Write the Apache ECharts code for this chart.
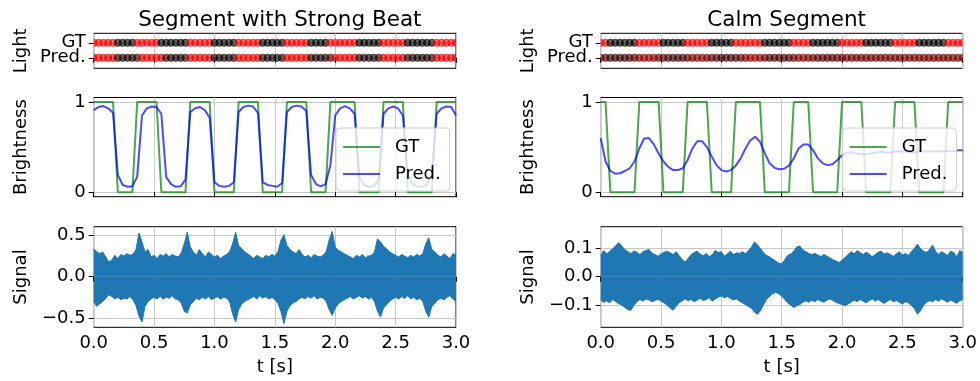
<!DOCTYPE html>
<html><head><meta charset="utf-8">
<script src="https://cdn.jsdelivr.net/npm/echarts@6/dist/echarts.min.js"></script>
<style>html,body{margin:0;padding:0;background:#fff}#c{width:980px;height:381px}</style>
</head><body><div id="c"></div><script>
// ---------- data ----------
const panelTitles = ['Segment with Strong Beat', 'Calm Segment'];
const lightRows = ['Pred.', 'GT'];   // y = 0, 1 on the light strip
const frameStep = 0.04;   // s per light frame
const sigStep = 0.025;    // s per envelope sample

const leftGT = [1,1,1,1,1, 0,0,0,0, 1,1,1,1,1, 0,0,0,0,0,0, 1,1,1,1,1, 0,0,0,0,0, 1,1,1,1,1, 0,0,0,0,0, 1,1,1,1,1, 0,0,0,0, 1,1,1,1,1,1, 0,0,0,0,0, 1,1,1,1,1, 0,0,0,0,0,0, 1,1,1,1,1];
const leftPred = [0.91,0.945,0.955,0.93,0.88, 0.19,0.08,0.06,0.065, 0.17,0.85,0.93,0.95,0.945, 0.87,0.17,0.09,0.06,0.065,0.14, 0.89,0.93,0.945,0.91,0.83, 0.11,0.07,0.06,0.07,0.11, 0.89,0.945,0.96,0.95,0.88, 0.11,0.08,0.07,0.06,0.10, 0.89,0.945,0.96,0.95,0.90, 0.19,0.09,0.065,0.09, 0.30,0.85,0.93,0.955,0.93,0.87, 0.17,0.08,0.06,0.065,0.14, 0.87,0.93,0.95,0.93,0.85, 0.19,0.09,0.06,0.06,0.08,0.19, 0.87,0.93,0.95,0.945,0.85];
const rightGT = [1,1, 0,0,0,0,0,0, 1,1,1,1,1, 0,0,0,0,0, 1,1,1,1,1, 0,0,0,0,0, 1,1,1,1,1,1, 0,0,0,0,0,0, 1,1,1,1, 0,0,0,0,0,0, 1,1,1,1,1, 0,0,0,0,0,0, 1,1,1,1,1, 0,0,0,0,0,0, 1,1,1,1];
const rightPred = [0.60,0.34,0.235,0.205,0.21,0.235,0.265,0.34,0.485,0.595, 0.60,0.53,0.43,0.34,0.28,0.245,0.245,0.265,0.355,0.485, 0.565,0.565,0.50,0.395,0.30,0.245,0.23,0.245,0.295,0.375, 0.485,0.575,0.615,0.56,0.43,0.32,0.27,0.255,0.26,0.295, 0.375,0.485,0.53,0.53,0.465,0.375,0.32,0.30,0.31,0.355, 0.41,0.44,0.44,0.43,0.42,0.42,0.43,0.44,0.45,0.44, 0.44,0.45,0.455,0.45,0.44,0.44,0.45,0.45,0.455,0.455, 0.455,0.455,0.455,0.455,0.465,0.465];

const leftSigUpper = [
0.34,0.30,0.28,0.30,0.24,0.18,0.20,0.26,0.22,0.27,
0.25,0.28,0.26,0.27,0.33,0.53,0.42,0.30,0.33,0.24,
0.26,0.22,0.27,0.25,0.28,0.24,0.27,0.25,0.24,0.29,
0.40,0.54,0.36,0.30,0.26,0.33,0.28,0.24,0.30,0.27,
0.24,0.26,0.22,0.25,0.27,0.30,0.40,0.54,0.38,0.34,
0.30,0.28,0.25,0.22,0.26,0.24,0.22,0.26,0.24,0.27,
0.25,0.30,0.44,0.51,0.38,0.33,0.30,0.28,0.33,0.27,
0.24,0.26,0.23,0.27,0.25,0.24,0.26,0.30,0.45,0.55,
0.36,0.32,0.30,0.28,0.26,0.24,0.22,0.26,0.24,0.27,
0.23,0.25,0.26,0.30,0.46,0.42,0.37,0.34,0.30,0.28,
0.26,0.24,0.27,0.25,0.23,0.26,0.24,0.27,0.25,0.28,
0.40,0.47,0.33,0.30,0.26,0.24,0.28,0.25,0.22,0.28,
0.26];
const leftSigLower = [
-0.30,-0.36,-0.33,-0.30,-0.26,-0.22,-0.24,-0.27,-0.25,-0.28,
-0.26,-0.27,-0.24,-0.28,-0.35,-0.48,-0.55,-0.36,-0.30,-0.27,
-0.25,-0.27,-0.24,-0.27,-0.25,-0.26,-0.23,-0.27,-0.28,-0.32,
-0.42,-0.44,-0.34,-0.30,-0.26,-0.28,-0.25,-0.27,-0.24,-0.28,
-0.26,-0.24,-0.27,-0.25,-0.26,-0.30,-0.45,-0.55,-0.40,-0.33,
-0.30,-0.28,-0.26,-0.24,-0.27,-0.23,-0.26,-0.24,-0.27,-0.25,
-0.28,-0.32,-0.42,-0.57,-0.42,-0.35,-0.32,-0.30,-0.27,-0.25,
-0.27,-0.24,-0.26,-0.23,-0.27,-0.25,-0.26,-0.30,-0.40,-0.47,
-0.38,-0.33,-0.30,-0.28,-0.26,-0.24,-0.27,-0.25,-0.23,-0.26,
-0.24,-0.27,-0.25,-0.30,-0.42,-0.49,-0.38,-0.34,-0.30,-0.27,
-0.25,-0.27,-0.24,-0.26,-0.23,-0.27,-0.25,-0.28,-0.26,-0.30,
-0.42,-0.49,-0.36,-0.32,-0.28,-0.26,-0.28,-0.25,-0.23,-0.27,
-0.30];
const rightSigUpper = [
0.075,0.092,0.080,0.090,0.098,0.110,0.120,0.108,0.095,0.088,
0.082,0.090,0.086,0.078,0.088,0.092,0.096,0.082,0.078,0.072,
0.080,0.086,0.090,0.084,0.078,0.088,0.074,0.060,0.052,0.065,
0.078,0.085,0.090,0.080,0.074,0.082,0.070,0.078,0.092,0.085,
0.088,0.072,0.080,0.090,0.078,0.084,0.082,0.088,0.080,0.092,
0.105,0.122,0.112,0.098,0.085,0.075,0.070,0.062,0.055,0.048,
0.045,0.060,0.075,0.080,0.090,0.105,0.108,0.095,0.088,0.082,
0.078,0.082,0.076,0.070,0.078,0.072,0.066,0.060,0.055,0.050,
0.058,0.068,0.078,0.088,0.080,0.092,0.085,0.078,0.086,0.080,
0.070,0.078,0.086,0.090,0.080,0.084,0.078,0.072,0.080,0.088,
0.076,0.082,0.075,0.088,0.100,0.115,0.098,0.090,0.085,0.095,
0.112,0.090,0.078,0.088,0.082,0.075,0.090,0.085,0.070,0.092,
0.085];
const rightSigLower = [
-0.082,-0.090,-0.085,-0.092,-0.080,-0.088,-0.095,-0.100,-0.108,-0.116,
-0.118,-0.100,-0.088,-0.080,-0.086,-0.078,-0.082,-0.088,-0.084,-0.080,
-0.086,-0.092,-0.100,-0.110,-0.118,-0.104,-0.092,-0.085,-0.078,-0.085,
-0.080,-0.088,-0.082,-0.076,-0.084,-0.080,-0.074,-0.086,-0.078,-0.072,
-0.068,-0.074,-0.070,-0.076,-0.082,-0.078,-0.086,-0.092,-0.098,-0.105,
-0.112,-0.125,-0.132,-0.118,-0.098,-0.080,-0.068,-0.060,-0.055,-0.060,
-0.068,-0.080,-0.092,-0.100,-0.108,-0.102,-0.098,-0.090,-0.085,-0.090,
-0.082,-0.088,-0.080,-0.086,-0.090,-0.082,-0.078,-0.084,-0.090,-0.094,
-0.098,-0.102,-0.096,-0.090,-0.082,-0.088,-0.080,-0.086,-0.092,-0.084,
-0.078,-0.086,-0.080,-0.088,-0.094,-0.086,-0.080,-0.088,-0.084,-0.090,
-0.096,-0.088,-0.092,-0.100,-0.112,-0.132,-0.120,-0.100,-0.090,-0.084,
-0.088,-0.080,-0.086,-0.078,-0.084,-0.090,-0.082,-0.088,-0.094,-0.085,
-0.080];

const sigTicks = [[-0.5, 0, 0.5], [-0.1, 0, 0.1]];
const sigRange = [[-0.614, 0.607], [-0.178, 0.176]];

// ---------- build ----------
const FONT = 'DejaVu Sans';
const FS = 18;
const cols = [{left: 93.7, width: 362.3}, {left: 600.7, width: 362}];
const rows = [{top: 33.3, height: 35}, {top: 97.5, height: 99.2}, {top: 226.7, height: 100.6}];
const GREEN = 'rgba(0,128,0,0.7)', BLUE = 'rgba(0,0,255,0.7)', SIG = '#1f77b4';
const GRIDC = '#c8c8c8';

const panels = [
  {gt: leftGT, pred: leftPred, up: leftSigUpper, lo: leftSigLower},
  {gt: rightGT, pred: rightPred, up: rightSigUpper, lo: rightSigLower}
];

const grid = [], xAxis = [], yAxis = [], series = [], title = [], legend = [];
const fmtSig = v => (v < 0 ? '\u2212' : '') + Math.abs(v).toFixed(1);
const yIdx = []; // [side][row] -> yAxis index used by series

function makeY(gi, cfg, vals, withName) {
  return {
    type: 'value', gridIndex: gi, min: cfg.min, max: cfg.max, position: 'left', offset: 0,
    axisLine: {show: false},
    axisTick: {show: true, length: 5, lineStyle: {color: '#000', width: 1}, customValues: vals},
    axisLabel: {show: true, customValues: vals, formatter: cfg.fmt, fontSize: FS,
      color: '#000', fontFamily: FONT, margin: 8, hideOverlap: false},
    splitLine: {show: true, lineStyle: {color: GRIDC, width: 1}},
    name: withName ? cfg.name : '', nameLocation: 'middle', nameGap: 63, nameRotate: 90,
    nameTextStyle: {fontSize: FS, color: '#000', fontFamily: FONT}
  };
}

cols.forEach((c, s) => {
  title.push({
    text: panelTitles[s], left: c.left + c.width / 2, top: 4, textAlign: 'center',
    textStyle: {fontSize: 21.5, fontWeight: 'normal', color: '#000', fontFamily: FONT}
  });
  yIdx.push([]);
  rows.forEach((r, ri) => {
    const gi = s * 3 + ri;
    grid.push({left: c.left, top: r.top, width: c.width, height: r.height, show: true,
      borderColor: '#000', borderWidth: 1, backgroundColor: 'transparent', containLabel: false, outerBoundsMode: 'none'});
    xAxis.push({
      type: 'value', gridIndex: gi, min: 0, max: 3, interval: 0.5,
      axisLine: {show: false},
      axisTick: {show: true, length: 5, lineStyle: {color: '#000', width: 1}},
      axisLabel: {show: ri === 2, formatter: v => v.toFixed(1), fontSize: FS, color: '#000', fontFamily: FONT, margin: 7, hideOverlap: false},
      splitLine: {show: true, lineStyle: {color: GRIDC, width: 1}},
      name: ri === 2 ? 't [s]' : '', nameLocation: 'middle', nameGap: 31,
      nameTextStyle: {fontSize: FS, color: '#000', fontFamily: FONT}
    });
    let cfg;
    if (ri === 0) cfg = {min: -0.70, max: 1.63, fmt: v => lightRows[v], name: 'Light'};
    else if (ri === 1) cfg = {min: -0.05, max: 1.05, fmt: v => String(v), name: 'Brightness'};
    else cfg = {min: sigRange[s][0], max: sigRange[s][1], fmt: fmtSig, name: 'Signal'};
    yIdx[s].push(yAxis.length);
    if (ri === 0) {
      // one label per axis so both row labels are kept
      yAxis.push(makeY(gi, cfg, [1], true));
      yAxis.push(makeY(gi, cfg, [0], false));
    } else if (ri === 1) {
      yAxis.push(makeY(gi, cfg, [0, 1], true));
    } else {
      yAxis.push(makeY(gi, cfg, sigTicks[s], true));
    }
  });

  const p = panels[s];
  const frameT = p.gt.map((_, i) => +(i * frameStep).toFixed(3));
  // light strip: one dot per frame, colour = brightness on red channel, clipped to the axes
  const lightData = [];
  p.gt.forEach((v, i) => lightData.push([frameT[i], 1, v]));
  p.pred.forEach((v, i) => lightData.push([frameT[i], 0, v]));
  series.push({
    type: 'custom', xAxisIndex: s * 3, yAxisIndex: yIdx[s][0], silent: true,
    encode: {x: 0, y: 1},
    data: lightData,
    renderItem: (params, api) => {
      const pt = api.coord([api.value(0), api.value(1)]);
      const cs = params.coordSys;
      const r = Math.round(255 * api.value(2));
      const col = `rgba(${r},0,0,0.62)`;
      return {
        type: 'circle', shape: {cx: pt[0], cy: pt[1], r: 3.6},
        style: {fill: col, stroke: col, lineWidth: 1},
        clipPath: {type: 'rect', shape: {x: cs.x, y: cs.y, width: cs.width, height: cs.height}}
      };
    }
  });
  // brightness
  series.push({type: 'line', name: 'GT', xAxisIndex: s * 3 + 1, yAxisIndex: yIdx[s][1], symbol: 'none',
    lineStyle: {color: GREEN, width: 2}, itemStyle: {color: GREEN},
    data: p.gt.map((v, i) => [frameT[i], v])});
  series.push({type: 'line', name: 'Pred.', xAxisIndex: s * 3 + 1, yAxisIndex: yIdx[s][1], symbol: 'none',
    lineStyle: {color: BLUE, width: 2}, itemStyle: {color: BLUE},
    data: p.pred.map((v, i) => [frameT[i], v])});
  // signal envelope (filled to zero)
  const sigT = p.up.map((_, i) => +(i * sigStep).toFixed(3));
  [p.up, p.lo].forEach(arr => {
    series.push({type: 'line', xAxisIndex: s * 3 + 2, yAxisIndex: yIdx[s][2], symbol: 'none', silent: true,
      lineStyle: {color: SIG, width: 1}, areaStyle: {color: SIG, opacity: 1},
      data: arr.map((v, i) => [sigT[i], v])});
  });

  legend.push({
    orient: 'vertical', left: c.left + c.width - 120, top: 128,
    data: [{name: 'GT', icon: 'rect'}, {name: 'Pred.', icon: 'rect'}],
    itemWidth: 37, itemHeight: 2, itemGap: 9,
    padding: [10, 9, 8, 7], backgroundColor: 'rgba(255,255,255,0.8)',
    borderColor: '#d0d0d0', borderWidth: 1, borderRadius: 4,
    textStyle: {fontSize: FS, color: '#000', fontFamily: FONT, padding: [0, 0, 0, 10]},
    selectedMode: false
  });
});

const chart = echarts.init(document.getElementById('c'), null, {renderer: 'canvas'});
chart.setOption({animation: false, backgroundColor: '#fff', title, grid, xAxis, yAxis, series, legend});
</script></body></html>
